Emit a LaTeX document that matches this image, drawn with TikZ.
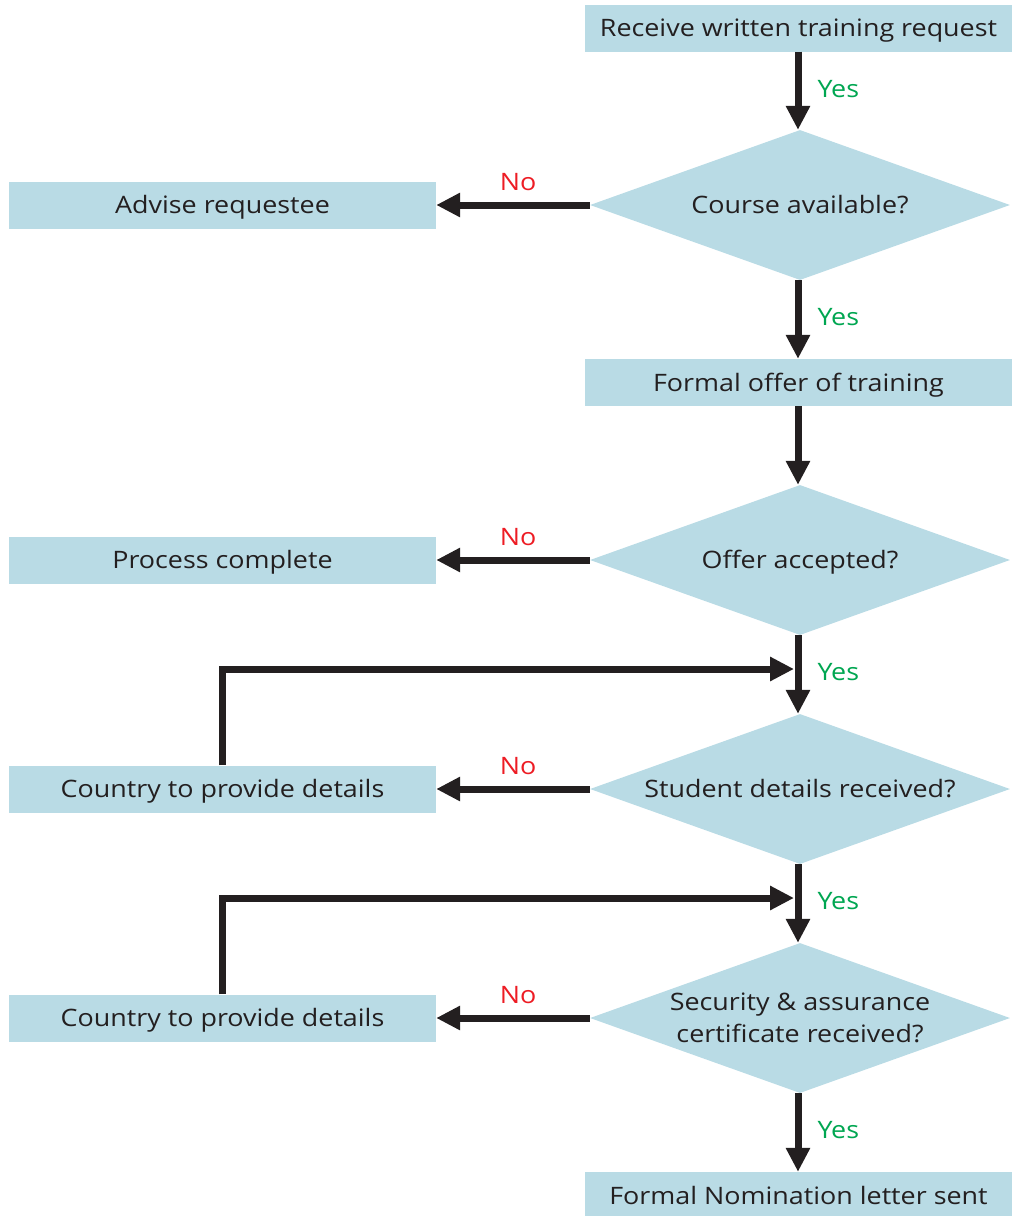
\documentclass[tikz,border=0pt]{standalone}
\usepackage{fontspec}
\setmainfont{Open Sans}[FakeStretch=1.12]
\usetikzlibrary{shapes.geometric,arrows.meta}
\definecolor{boxfill}{HTML}{B9DBE5}
\definecolor{txt}{HTML}{231F20}
\definecolor{yesgreen}{HTML}{00A651}
\definecolor{nored}{HTML}{ED1C24}
\begin{document}
\begin{tikzpicture}[x=1pt,y=-1pt,
  font=\fontsize{24}{32}\selectfont, text=txt,
  box/.style={rectangle, fill=boxfill, minimum width=427pt, minimum height=47pt, inner sep=0pt, text height=17pt, text depth=0pt},
  dec/.style={diamond, fill=boxfill, minimum width=420pt, minimum height=150pt, inner sep=0pt},
  dtext/.style={align=center, text=txt, inner sep=0pt, text height=17pt, text depth=0pt},
  flow/.style={line width=7pt, draw=txt, line join=miter, -{Triangle[length=24pt,width=23pt]}},
  yeslab/.style={text=yesgreen, inner sep=0pt, anchor=west, xshift=16pt, yshift=2pt},
  nolab/.style={text=nored, inner sep=0pt, yshift=23pt, xshift=5pt}]
\useasboundingbox (0,0) rectangle (1012,1216);

% right column
\node[box] (start) at (798.5,28) {Receive written training request};
\node[dec] (d1) at (800,205) {};
\node[dtext] (t1) at (d1.center) {Course available?};
\node[box] (offer) at (798.5,382.5) {Formal offer of training};
\node[dec] (d2) at (800,560) {};
\node[dtext] (t2) at (d2.center) {Offer accepted?};
\node[dec] (d3) at (800,789) {};
\node[dtext] (t3) at (d3.center) {Student details received?};
\node[dec] (d4) at (800,1018) {};
\node[dtext, text height=49pt] (t4) at (d4.center) {Security \& assurance\\certificate received?};
\node[box] (nom) at (798.5,1195.5) {Formal Nomination letter sent};

% left column
\node[box] (advise) at (222.5,205) {Advise requestee};
\node[box] (done) at (222.5,560) {Process complete};
\node[box] (c1) at (222.5,789) {Country to provide details};
\node[box] (c2) at (222.5,1018) {Country to provide details};

\coordinate (j1) at (794,669);
\coordinate (j2) at (794,898);

% vertical flow
\draw[flow] (start.south -| 798,0) -- (d1.north -| 798,0) node[yeslab, midway] {Yes};
\draw[flow] (d1.south -| 798,0) -- (offer.north -| 798,0) node[yeslab, midway] {Yes};
\draw[flow] (offer.south -| 798,0) -- (d2.north -| 798,0);
\draw[flow] (d2.south -| 798,0) -- (d3.north -| 798,0) node[yeslab, midway] {Yes};
\draw[flow] (d3.south -| 798,0) -- (d4.north -| 798,0) node[yeslab, midway] {Yes};
\draw[flow] (d4.south -| 798,0) -- (nom.north -| 798,0) node[yeslab, midway] {Yes};

% No branches
\draw[flow] (d1.west) -- (advise.east) node[nolab, midway] {No};
\draw[flow] (d2.west) -- (done.east) node[nolab, midway] {No};
\draw[flow] (d3.west) -- (c1.east) node[nolab, midway] {No};
\draw[flow] (d4.west) -- (c2.east) node[nolab, midway] {No};

% loops back
\draw[flow] (c1.north) |- (j1);
\draw[flow] (c2.north) |- (j2);
\end{tikzpicture}
\end{document}
